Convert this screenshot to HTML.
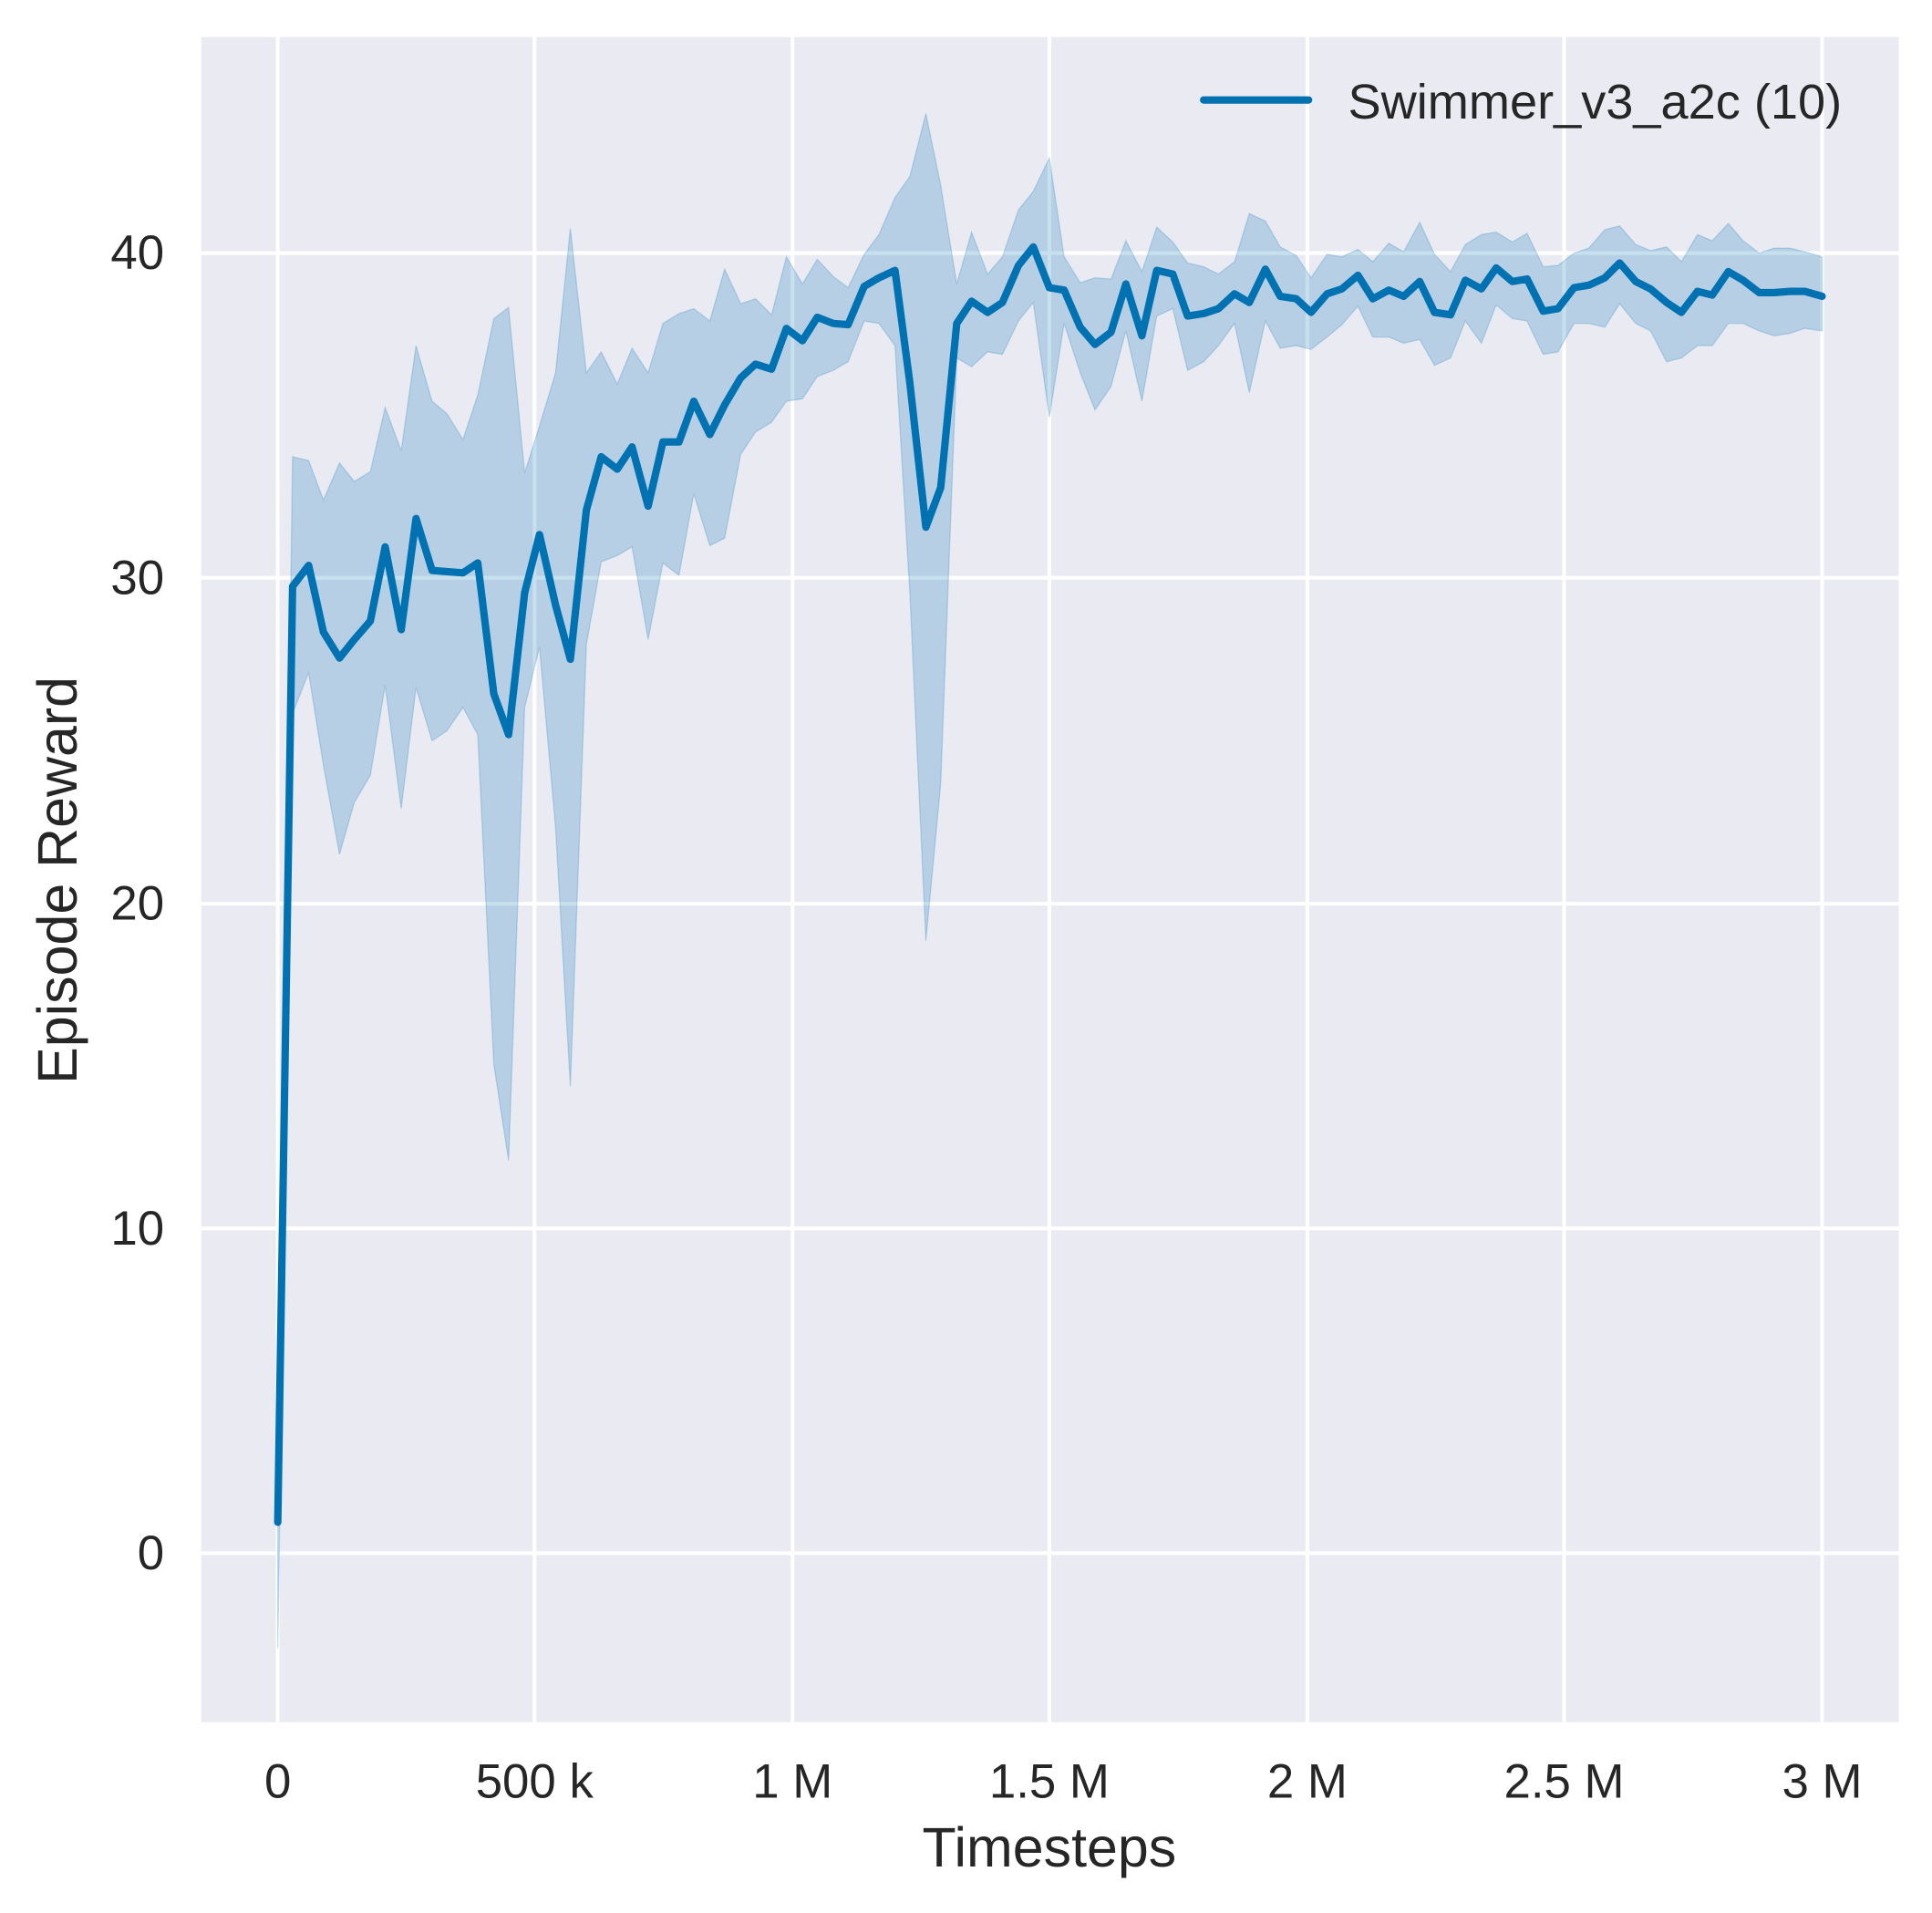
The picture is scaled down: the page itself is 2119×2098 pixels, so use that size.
<!DOCTYPE html>
<html><head><style>html,body{margin:0;padding:0;background:#fff}svg{display:block}</style></head><body>
<svg width="2119" height="2098" viewBox="0 0 1565 1549.5" xmlns="http://www.w3.org/2000/svg" font-family="Liberation Sans, sans-serif" fill="#262626">
<rect x="163" y="30" width="1375" height="1365" fill="#eaeaf2"/>
<g stroke="#fff" stroke-width="3">
<line x1="225" y1="30" x2="225" y2="1395"/><line x1="433" y1="30" x2="433" y2="1395"/><line x1="642" y1="30" x2="642" y2="1395"/><line x1="850" y1="30" x2="850" y2="1395"/><line x1="1059" y1="30" x2="1059" y2="1395"/><line x1="1267" y1="30" x2="1267" y2="1395"/><line x1="1476" y1="30" x2="1476" y2="1395"/>
<line x1="163" y1="205" x2="1538" y2="205"/><line x1="163" y1="468" x2="1538" y2="468"/><line x1="163" y1="732" x2="1538" y2="732"/><line x1="163" y1="995" x2="1538" y2="995"/><line x1="163" y1="1258" x2="1538" y2="1258"/>
</g>
<polygon fill="#0072b2" fill-opacity="0.22" stroke="#0072b2" stroke-opacity="0.2" stroke-width="1" points="225,1233 237,370 250,373 262,405 275,375 287,390 300,382 312,330 325,365 337,280 350,325 362,335 375,356 387,320 400,258 412,249 425,383 437,345 450,302 462,185 475,302 487,285 500,311 512,282 525,302 537,262 550,254 562,250 575,260 587,218 600,246 612,242 625,255 637,208 650,230 662,210 675,224 687,233 700,206 712,190 725,160 737,143 750,92 762,150 775,230 787,188 800,222 812,208 825,170 837,155 850,128 862,208 875,229 887,225 900,226 912,195 925,220 937,184 950,196 962,213 975,216 987,222 1000,212 1012,173 1025,179 1037,200 1050,207 1062,225 1075,206 1087,208 1100,202 1112,212 1125,197 1137,204 1150,180 1162,206 1175,220 1187,198 1200,190 1212,188 1225,196 1237,189 1250,216 1262,215 1275,205 1287,201 1300,186 1312,183 1325,198 1337,203 1350,200 1362,212 1375,190 1387,195 1400,181 1412,195 1425,205 1437,201 1450,201 1462,204 1476,208 1476,268 1462,266 1450,270 1437,272 1425,268 1412,262 1400,262 1387,280 1375,280 1362,290 1350,293 1337,268 1325,262 1312,246 1300,265 1287,262 1275,262 1262,285 1250,287 1237,260 1225,258 1212,247 1200,278 1187,260 1175,290 1162,296 1150,275 1137,278 1125,273 1112,273 1100,248 1087,263 1075,273 1062,283 1050,280 1037,282 1025,260 1012,318 1000,262 987,280 975,293 962,300 950,250 937,256 925,325 912,268 900,313 887,332 875,302 862,262 850,338 837,245 825,260 812,287 800,285 787,297 775,290 762,635 750,762 737,480 725,280 712,262 700,260 687,293 675,300 662,305 650,323 637,325 625,342 612,350 600,368 587,436 575,442 562,400 550,466 537,456 525,518 512,443 500,450 487,455 475,522 462,880 450,670 437,524 425,573 412,940 400,862 387,595 375,573 362,592 350,600 337,557 325,655 312,555 300,628 287,650 275,692 262,620 250,545 237,578 225,1335"/>
<polyline fill="none" stroke="#0072b2" stroke-width="6" stroke-linejoin="round" stroke-linecap="round" points="225,1233 237,475 250,458 262,512 275,533 287,518 300,503 312,443 325,510 337,420 350,462 362,463 375,464 387,456 400,562 412,595 425,480 437,433 450,490 462,534 475,413 487,370 500,380 512,362 525,410 537,358 550,358 562,325 575,352 587,328 600,306 612,295 625,299 637,266 650,276 662,257 675,262 687,263 700,232 712,225 725,219 737,310 750,427 762,395 775,262 787,244 800,253 812,245 825,215 837,200 850,233 862,235 875,265 887,279 900,269 912,230 925,272 937,219 950,222 962,256 975,254 987,250 1000,238 1012,245 1025,218 1037,240 1050,242 1062,253 1075,238 1087,234 1100,223 1112,242 1125,235 1137,240 1150,228 1162,253 1175,255 1187,227 1200,234 1212,217 1225,228 1237,226 1250,252 1262,250 1275,233 1287,231 1300,225 1312,213 1325,228 1337,234 1350,245 1362,253 1375,236 1387,239 1400,220 1412,227 1425,237 1437,237 1450,236 1462,236 1476,240"/>
<line x1="975" y1="81" x2="1060" y2="81" stroke="#0072b2" stroke-width="6" stroke-linecap="round"/>
<text x="1092" y="96" font-size="40">Swimmer_v3_a2c (10)</text>
<g font-size="39" text-anchor="end">
<text x="133" y="218">40</text><text x="133" y="481">30</text><text x="133" y="745">20</text><text x="133" y="1008">10</text><text x="133" y="1271">0</text>
</g>
<g font-size="39" text-anchor="middle">
<text x="225" y="1456">0</text><text x="433" y="1456">500 k</text><text x="642" y="1456">1 M</text><text x="850" y="1456">1.5 M</text><text x="1059" y="1456">2 M</text><text x="1267" y="1456">2.5 M</text><text x="1476" y="1456">3 M</text>
</g>
<text x="850" y="1512" font-size="45" text-anchor="middle">Timesteps</text>
<text transform="translate(62,713) rotate(-90)" font-size="45" text-anchor="middle">Episode Reward</text>
</svg>
</body></html>
